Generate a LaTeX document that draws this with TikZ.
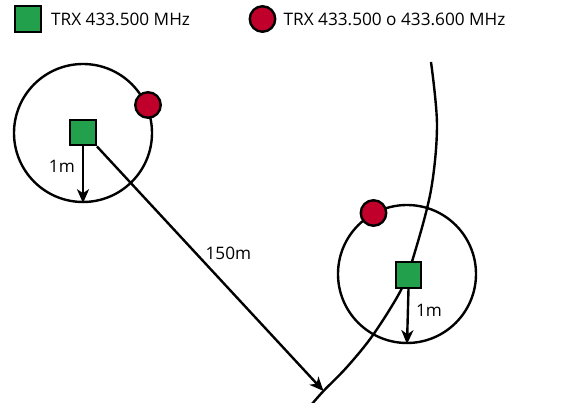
\documentclass[tikz,border=0pt]{standalone}
\usepackage{fontspec}
\setmainfont{Open Sans}
\usetikzlibrary{arrows.meta,positioning,backgrounds}
\definecolor{trxgreen}{HTML}{22A04B}
\definecolor{trxred}{HTML}{C0002A}

\begin{document}
\begin{tikzpicture}[x=1pt, y=-1pt, font=\fontsize{17.2}{20}\selectfont, line width=2.4pt]
  \tikzset{
    trxbox/.style ={draw=black, fill=trxgreen, minimum size=25.5pt, inner sep=0pt},
    trxdot/.style ={draw=black, fill=trxred, circle, minimum size=25.5pt, inner sep=0pt},
    rangering/.style={draw=black, circle, minimum size=138pt, inner sep=0pt},
    legtxt/.style ={inner sep=0pt, anchor=west},
    reach/.style  ={-{Stealth[length=14pt, width=12pt, inset=4pt]}},
  }
  \useasboundingbox (0,0) rectangle (571,403);
  % legend
  \node[trxbox] (legsq) at (28,19) {};
  \node[legtxt, right=8pt of legsq] (legtxta) {TRX 433.500 MHz};
  \node[trxdot] (legdot) at (262.5,19) {};
  \node[legtxt, right=6pt of legdot] (legtxtb) {TRX 433.500 o 433.600 MHz};
  % two stations
  \node[rangering] (ringa) at (83,133) {};
  \node[rangering] (ringb) at (407,274) {};
  \node[trxbox] (trxa) at (83,132.5) {};
  \node[trxbox] (trxb) at (408.5,275) {};
  \node[trxdot] (dota) at (148,105) {};
  \node[trxdot] (dotb) at (373.5,213) {};
  \coordinate (hit) at (323.5,391);
  \begin{scope}[on background layer={line width=2.4pt}]
    \draw plot[smooth, tension=0.55] coordinates {(431,62) (437,125) (431,190) (414,255) (401,290) (373,335) (347,367) (hit) (312,404)};
    \draw[reach] (trxa.south east) -- node[pos=.47, above right, inner sep=1pt] {150m} (hit);
    \draw[reach] (trxa.south) -- node[pos=.35, left, inner sep=7pt] {1m} (ringa.south);
    \draw[reach] (trxb.south) -- node[pos=.38, right, inner sep=7pt] {1m} (ringb.south);
  \end{scope}
\end{tikzpicture}
\end{document}
